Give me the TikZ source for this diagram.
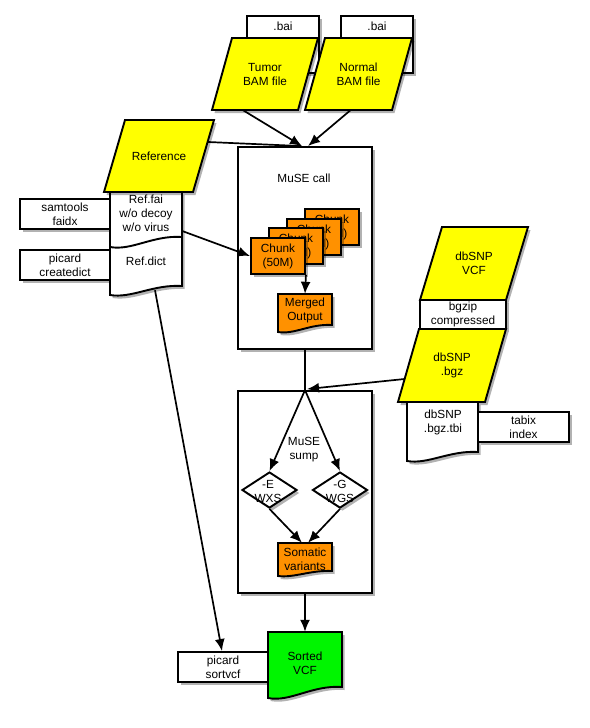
\documentclass[tikz,border=0pt]{standalone}
\usepackage{fontspec}
\setmainfont{Liberation Sans}
\usetikzlibrary{shadows,calc,arrows.meta,shapes.geometric}
\definecolor{parayel}{RGB}{255,255,0}
\definecolor{chunkor}{RGB}{255,145,0}
\definecolor{vcfgreen}{RGB}{0,245,0}
% parallelogram: name, x bottom-left, y bottom, width, height, slant, text
\newcommand\paranode[7]{%
  \path[shapeline,fill=parayel,shad] (#2,#3) -- ++(#4,0) -- ++(#6,-#5) -- ++(-#4,0) -- cycle;
  \node[txt,minimum width={#4+#6},minimum height=#5] (#1) at ({#2+(#4+#6)/2},{#3-#5/2}) {#7};}
% document: name, x0, y0, width, y of left bottom, wave depth, fill
\newcommand\docnode[7]{%
  \path[shapeline,fill=#7,shad] (#2,#3) -- ({#2+#4},#3) -- ({#2+#4},{#5-#6})
    .. controls ({#2+0.6*#4},{#5-1.2*#6}) and ({#2+0.3*#4},{#5+0.4*#6}) .. (#2,#5) -- cycle;
  \node[inner sep=0pt,minimum width=#4,minimum height={#5-#3}] (#1) at ({#2+#4/2},{(#3+#5)/2}) {};}
\begin{document}
\begin{tikzpicture}[x=1pt,y=-1pt,
  txt/.style={align=center,font=\fontsize{11.8}{14}\selectfont,inner sep=0pt},
  shad/.style={drop shadow={shadow xshift=2.5pt,shadow yshift=-3pt,opacity=0.3,fill=black}},
  shapeline/.style={draw=black,line width=1.9pt,line join=miter},
  boxstyle/.style={txt,shapeline,fill=white,shad,rectangle},
  chunkbox/.style={txt,shapeline,fill=chunkor,shad,rectangle,minimum width=54,minimum height=36},
  decision/.style={diamond,shapeline,fill=white,shad,inner sep=0pt,minimum width=55,minimum height=36},
  conn/.style={line width=1.7pt,-{Latex[length=12pt,width=10pt]}},
  plainconn/.style={line width=1.7pt}]
\useasboundingbox (0,0) rectangle (589,728);
\fill[white] (0,0) rectangle (589,728);

% .bai index boxes
\node[boxstyle,anchor=north,minimum width=72,inner ysep=6pt,text height=8.5pt,text depth=36.5pt] (bai1) at (283,15) {.bai};
\node[boxstyle,anchor=north,minimum width=72,inner ysep=6pt,text height=8.5pt,text depth=36.5pt] (bai2) at (377,15) {.bai};

% BAM files
\paranode{tumor}{212}{110}{86}{72}{20}{Tumor\\BAM file}
\paranode{normal}{305}{110}{87}{72}{20}{Normal\\BAM file}

% reference side
\node[boxstyle,minimum width=90,minimum height=30] (samtools) at (65,214) {samtools\\faidx};
\node[boxstyle,minimum width=90,minimum height=30] (createdict) at (65,265) {picard\\createdict};
\docnode{refdoc}{110}{192}{72}{295}{9}{white}
\draw[shapeline] (110,247) .. controls (131.6,251) and (153,235) .. (182,237);
\node[txt] (reffai) at (146,213) {Ref.fai\\w/o decoy\\w/o virus};
\node[txt] (refdict) at (146,261) {Ref.dict};
\paranode{reference}{104}{192}{89}{72}{21}{Reference}

% MuSE call
\node[shapeline,fill=white,shad,minimum width=134,minimum height=202] (call) at (305,248) {};
\node[txt] (calltxt) at (304,178) {MuSE call};
\node[chunkbox] (chunk4) at (332,227) {Chunk\\(50M)};
\node[chunkbox] (chunk3) at (314,237) {Chunk\\(50M)};
\node[chunkbox] (chunk2) at (296,246) {Chunk\\(50M)};
\node[chunkbox] (chunk1) at (278,256) {Chunk\\(50M)};
\docnode{merged}{278}{294}{54}{332}{7}{chunkor}
\node[txt] (mergedtxt) at (305,310) {Merged\\Output};

% dbSNP
\paranode{dbvcf}{420}{300}{86}{73}{22}{dbSNP\\VCF}
\node[boxstyle,minimum width=86,minimum height=29] (bgzip) at (463,314.5) {bgzip\\compressed};
\paranode{dbbgz}{398}{402}{87}{73}{21}{dbSNP\\.bgz}
\docnode{tbi}{407}{402}{71}{461}{9}{white}
\node[txt] (tbitxt) at (443,422) {dbSNP\\.bgz.tbi};
\node[boxstyle,minimum width=91,minimum height=30] (tabix) at (523.5,427) {tabix\\index};

% MuSE sump
\node[shapeline,fill=white,shad,minimum width=134,minimum height=202] (sump) at (305,492) {};
\node[txt] (sumptxt) at (304,450) {MuSE\\sump};
\node[decision] (diamL) at (269.5,490) {};
\node[txt] (diamLtxt) at (268,491) {-E\\WXS};
\node[decision] (diamR) at (340,490) {};
\node[txt] (diamRtxt) at (340,491) {-G\\WGS};
\docnode{somatic}{278}{543}{54}{576}{5}{chunkor}
\node[txt] (somatictxt) at (305,559) {Somatic\\variants};

% sorted output
\node[boxstyle,minimum width=90,minimum height=30] (sortvcf) at (223,667) {picard\\sortvcf};
\docnode{sorted}{268}{632}{74}{698}{11}{vcfgreen}
\node[txt] (sortedtxt) at (305,663) {Sorted\\VCF};

% connectors
\draw[plainconn] ($(reference.center)+(49,-14)$) -- ($(call.north)+(-4,0)$);
\draw[conn] ($(tumor.south)+(-22,0)$) -- ($(call.north)+(-3,0)$);
\draw[conn] ($(normal.south)+(-8,0)$) -- ($(call.north)+(3,0)$);
\draw[conn] ($(refdoc.east)+(0,-12.5)$) -- (chunk1.west);
\draw[conn] (chunk1.south east) -- (merged.north);
\draw[plainconn] (call.south) -- (sump.north);
\draw[conn] ($(dbbgz.center)+(-47.4,13.5)$) -- ($(sump.north)+(2,-1)$);
\draw[conn] (sump.north) -- (diamL.north);
\draw[conn] (sump.north) -- (diamR.north);
\draw[conn] (diamL.south) -- ($(somatic.north)+(-3,0)$);
\draw[conn] (diamR.south) -- ($(somatic.north)+(3,0)$);
\draw[conn] (sump.south) -- (sorted.north);
\draw[conn] ($(refdoc.south)+(9,-5)$) -- ($(sortvcf.north)+(-1,0)$);
\end{tikzpicture}
\end{document}
